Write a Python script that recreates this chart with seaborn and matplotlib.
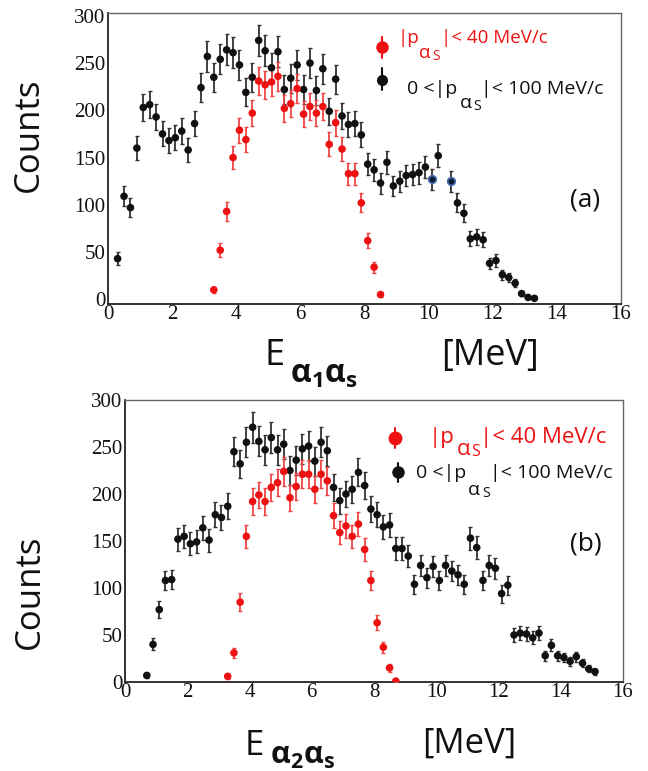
import numpy as np
import pandas as pd
import matplotlib
matplotlib.use("Agg")
import matplotlib.pyplot as plt
from matplotlib.lines import Line2D
from matplotlib.ticker import MultipleLocator
import seaborn as sns

# ---------------- data ----------------
# panel (a): E_{alpha1 alpha_s}
a_black_E = [0.3, 0.5, 0.7, 0.9, 1.1, 1.3, 1.5, 1.7, 1.9, 2.1, 2.3, 2.5, 2.7, 2.9,
             3.1, 3.3, 3.5, 3.7, 3.9, 4.1, 4.3, 4.5, 4.7, 4.9, 5.1, 5.3, 5.5, 5.7,
             5.9, 6.1, 6.3, 6.5, 6.7, 6.9, 7.1, 7.3, 7.5, 7.7, 7.9, 8.1, 8.3, 8.5,
             8.7, 8.9, 9.1, 9.3, 9.5, 9.7, 9.9, 10.1, 10.3, 10.7, 10.9, 11.1, 11.3,
             11.5, 11.7, 11.9, 12.1, 12.3, 12.5, 12.7, 12.9, 13.1, 13.3]
a_black_N = [43, 109, 97, 160, 203, 206, 193, 175, 168, 171, 178, 158, 186, 224,
             257, 235, 254, 264, 261, 248, 219, 235, 274, 263, 245, 262, 222, 234,
             248, 222, 250, 221, 244, 199, 233, 194, 185, 186, 174, 143, 137, 123,
             145, 120, 125, 131, 132, 134, 140, 127, 152, 125, 102, 91, 64,
             66, 63, 38, 41, 26, 23, 17, 6, 2, 1]
a_blue_E = [10.1, 10.7]          # two points drawn with a blue rim
a_red_E = [3.3, 3.5, 3.7, 3.9, 4.1, 4.3, 4.5, 4.7, 4.9, 5.1, 5.3, 5.5, 5.7, 5.9,
           6.1, 6.3, 6.5, 6.7, 6.9, 7.1, 7.3, 7.5, 7.7, 7.9, 8.1, 8.3, 8.5]
a_red_N = [10, 52, 93, 150, 179, 169, 197, 231, 227, 230, 236, 202, 207, 223,
           196, 204, 197, 204, 164, 187, 159, 133, 133, 102, 62, 34, 5]

# panel (b): E_{alpha2 alpha_s}
b_black_E = [0.7, 0.9, 1.1, 1.3, 1.5, 1.7, 1.9, 2.1, 2.3, 2.5, 2.7, 2.9, 3.1, 3.3,
             3.5, 3.7, 3.9, 4.1, 4.3, 4.5, 4.7, 4.9, 5.1, 5.3, 5.5, 5.7, 5.9, 6.1,
             6.3, 6.5, 6.7, 6.9, 7.1, 7.3, 7.5, 7.7, 7.9, 8.1, 8.3, 8.5, 8.7, 8.9,
             9.1, 9.3, 9.5, 9.7, 9.9, 10.1, 10.3, 10.5, 10.7, 10.9, 11.1, 11.3,
             11.5, 11.7, 11.9, 12.1, 12.3, 12.5, 12.7, 12.9, 13.1, 13.3, 13.5,
             13.7, 13.9, 14.1, 14.3, 14.5, 14.7, 14.9, 15.1]
b_black_N = [7, 40, 77, 108, 109, 152, 155, 147, 149, 164, 151, 178, 175, 187,
             245, 232, 255, 271, 256, 247, 260, 247, 253, 225, 236, 248, 251, 235,
             255, 246, 207, 193, 200, 205, 223, 209, 184, 178, 165, 167, 142, 142,
             134, 104, 124, 111, 123, 108, 124, 118, 114, 104, 153, 143,
             108, 124, 121, 94, 103, 50, 52, 51, 47, 52, 28,
             39, 28, 26, 22, 27, 20, 14, 11]
b_red_E = [3.3, 3.5, 3.7, 3.9, 4.1, 4.3, 4.5, 4.7, 4.9, 5.1, 5.3, 5.5, 5.7, 5.9,
           6.1, 6.3, 6.5, 6.7, 6.9, 7.1, 7.3, 7.5, 7.7, 7.9, 8.1, 8.3, 8.5, 8.7]
b_red_N = [6, 31, 85, 155, 192, 199, 192, 207, 212, 224, 196, 208, 221, 221,
           205, 221, 214, 177, 159, 166, 155, 168, 141, 108, 63, 37, 15, 1]

x_ticks = [0, 2, 4, 6, 8, 10, 12, 14, 16]
y_ticks = [0, 50, 100, 150, 200, 250, 300]

# ---------------- style ----------------
sns.set_theme(style="white")
plt.rcParams["font.family"] = ["Open Sans", "DejaVu Sans"]
plt.rcParams["mathtext.fontset"] = "custom"
plt.rcParams["mathtext.rm"] = "Open Sans"
plt.rcParams["mathtext.it"] = "Open Sans:italic"
plt.rcParams["mathtext.bf"] = "Open Sans:bold"

W, H = 648, 771
fig = plt.figure(figsize=(W / 100, H / 100), dpi=100)
fig.patch.set_facecolor("white")

ax1 = fig.add_axes([108 / W, 1 - 304 / H, (621 - 108) / W, (304 - 13) / H])
ax2 = fig.add_axes([125 / W, 1 - 682 / H, (623 - 125) / W, (682 - 400) / H])

BLACK = "#111111"
RED = "#ee1111"
RED_BAR = "#f04545"
BAR_BLACK = "#333333"


def make_df(E, N, label):
    return pd.DataFrame({"E": E, "N": N, "set": label})


def draw_panel(ax, blk_E, blk_N, red_E, red_N, blue_E=()):
    blk = make_df(blk_E, blk_N, "black")
    red = make_df(red_E, red_N, "red")
    ax.errorbar(blk["E"], blk["N"], yerr=np.sqrt(blk["N"]), fmt="none",
                ecolor=BAR_BLACK, elinewidth=1.3, capsize=1.4, capthick=1.0, zorder=2)
    ax.errorbar(red["E"], red["N"], yerr=np.sqrt(red["N"]), fmt="none",
                ecolor=RED_BAR, elinewidth=1.3, capsize=1.4, capthick=1.0, zorder=3)
    df = pd.concat([blk, red], ignore_index=True)
    sns.scatterplot(data=df, x="E", y="N", hue="set",
                    palette={"black": BLACK, "red": RED}, s=30, linewidth=0,
                    legend=False, ax=ax, zorder=4)
    if len(blue_E):
        bl = blk[blk["E"].isin(blue_E)]
        sns.scatterplot(data=bl, x="E", y="N", color="#0d1a33", s=30,
                        edgecolor="#4a6fb0", linewidth=1.2, legend=False,
                        ax=ax, zorder=5)


def style_axes(ax, ylim):
    ax.set_xlim(0, 16)
    ax.set_ylim(*ylim)
    ax.set_xticks(x_ticks)
    ax.set_yticks(y_ticks)
    ax.xaxis.set_minor_locator(MultipleLocator(0.5))
    ax.yaxis.set_minor_locator(MultipleLocator(10))
    ax.set_xlabel("")
    ax.set_ylabel("")
    ax.tick_params(axis="x", which="major", direction="in", length=8, width=0.9,
                   color="#333333", pad=1, labelsize=15,
                   labelfontfamily="Liberation Serif", labelcolor="#111111")
    ax.tick_params(axis="x", which="minor", direction="in", length=4, width=0.8,
                   color="#333333")
    ax.tick_params(axis="y", which="major", direction="in", length=12, width=1.1,
                   color="#777777", pad=2, labelsize=15,
                   labelfontfamily="Liberation Serif", labelcolor="#111111")
    ax.tick_params(axis="y", which="minor", direction="in", length=6, width=0.8,
                   color="#555555")
    for side in ("left", "bottom"):
        ax.spines[side].set_color("#222222")
        ax.spines[side].set_linewidth(1.3)
    for side in ("top", "right"):
        ax.spines[side].set_color("#666666")
        ax.spines[side].set_linewidth(1.0)
    ax.set_facecolor("white")


draw_panel(ax1, a_black_E, a_black_N, a_red_E, a_red_N, a_blue_E)
draw_panel(ax2, b_black_E, b_black_N, b_red_E, b_red_N)
style_axes(ax1, (-5, 303))
style_axes(ax2, (0, 300))


# ---------------- text helpers (pixel coordinates, y from top) ----------------
def ptext(x, y, s, **kw):
    kw.setdefault("va", "baseline")
    kw.setdefault("ha", "left")
    return fig.text(x / W, 1 - y / H, s, **kw)


def legend_marker(x, y, y1, y2, color, ms):
    fig.add_artist(Line2D([x / W, x / W], [1 - y1 / H, 1 - y2 / H],
                          transform=fig.transFigure, color=color, lw=1.5))
    fig.add_artist(Line2D([x / W], [1 - y / H], transform=fig.transFigure,
                          marker="o", markersize=ms, color=color, lw=0))


def legend_entry(xs, base, sub_base, prefix, suffix, fs, color):
    # xs = (x of prefix, x of alpha, x of S, x of suffix)
    ptext(xs[0], base, prefix, fontsize=fs, color=color)
    ptext(xs[1], sub_base, "\u03b1", fontsize=fs, color=color)
    ptext(xs[2], sub_base + 1.5, "S", fontsize=fs * 0.72, color=color)
    ptext(xs[3], base, suffix, fontsize=fs, color=color)


# y-axis titles
ptext(29, 135, "Counts", rotation=90, ha="center", va="center", fontsize=25, color="#111111")
ptext(30, 592, "Counts", rotation=90, ha="center", va="center", fontsize=25, color="#111111")

# x-axis titles
ptext(265, 365, "E", fontsize=26, color="#111111")
ptext(290, 383, r"$\mathbf{\alpha_{1}\alpha_{s}}$", fontsize=23, color="#111111")
ptext(441, 365, "[MeV]", fontsize=26, color="#111111")

ptext(245, 755, "E", fontsize=25, color="#111111")
ptext(270, 764, r"$\mathbf{\alpha_{2}\alpha_{s}}$", fontsize=22, color="#111111")
ptext(422, 753, "[MeV]", fontsize=25, color="#111111")

# legend, panel (a)
legend_marker(382, 47, 37, 58, RED, 8)
legend_entry((398, 419, 432, 441), 43, 58, "|p", "|< 40 MeV/c", 13.5, RED)
legend_marker(382, 80, 68, 90, BLACK, 7)
legend_entry((407, 460, 473, 481), 94, 108, "0 <|p", "|< 100 MeV/c", 14, BLACK)
ptext(585, 200, "(a)", ha="center", va="center", fontsize=19, color="#111111")

# legend, panel (b)
legend_marker(395, 438, 428, 448, RED, 9)
legend_entry((429, 457, 471, 480), 443, 455, "|p", "|< 40 MeV/c", 16, RED)
legend_marker(398, 472, 463, 482, BLACK, 8)
legend_entry((416, 468, 482, 490), 478, 495, "0 <|p", "|< 100 MeV/c", 14, BLACK)
ptext(586, 544, "(b)", ha="center", va="center", fontsize=19, color="#111111")

fig.savefig("out.png", dpi=100, facecolor="white")
